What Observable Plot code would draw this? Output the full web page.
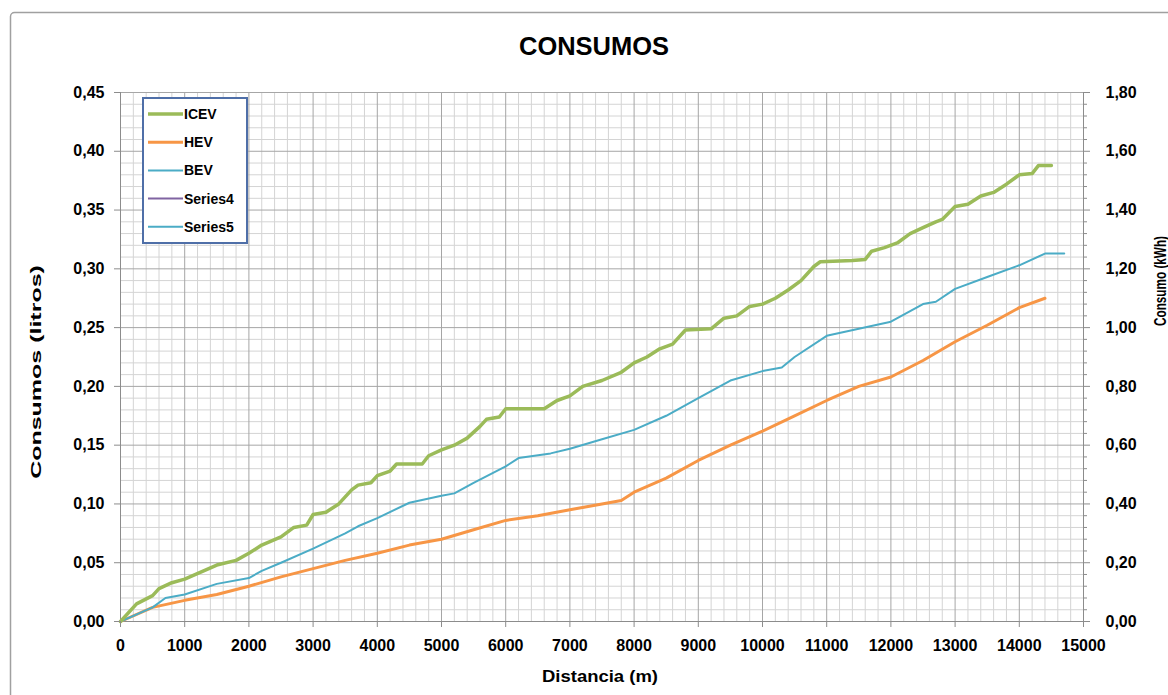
<!DOCTYPE html>
<html>
<head>
<meta charset="utf-8">
<script src="https://cdn.jsdelivr.net/npm/d3@7"></script>
<script src="https://cdn.jsdelivr.net/npm/@observablehq/plot@0.6"></script>
<style>
  html, body { margin: 0; padding: 0; background: #fff; }
  #wrap { position: relative; width: 1168px; height: 695px; overflow: hidden; }
  #wrap > svg { position: absolute; left: 0; top: 0; }
</style>
</head>
<body>
<div id="wrap"></div>
<script>
// ---- Data ----
const chartTitle = "CONSUMOS";
const xLabel = "Distancia (m)";
const yLabelLeft = "Consumos (litros)";
const yLabelRight = "Consumo (kWh)";
const legendNames = ["ICEV", "HEV", "BEV", "Series4", "Series5"];
const legendColors = ["#9bbb59", "#f79646", "#4bacc6", "#8064a2", "#4bacc6"];

const xTicks = [0,1000,2000,3000,4000,5000,6000,7000,8000,9000,10000,11000,12000,13000,14000,15000];
const yTicksLeft = [0,0.05,0.10,0.15,0.20,0.25,0.30,0.35,0.40,0.45];
const kWhPerLitreAxis = 4; // right axis 0..1.80 matches left 0..0.45

// ICEV (litros)
const icevDist = [0,250,500,600,800,1000,1500,1800,2000,2200,2500,2700,2900,3000,3200,3400,3600,3700,3900,4000,4200,4300,4700,4800,5000,5200,5400,5600,5700,5900,6000,6600,6800,7000,7200,7500,7800,8000,8200,8400,8600,8800,9200,9400,9600,9800,10000,10200,10400,10600,10800,10900,11400,11600,11700,11900,12100,12300,12500,12700,12800,13000,13200,13400,13600,13800,14000,14200,14300,14500];
const icevVal  = [0,0.015,0.022,0.028,0.033,0.036,0.048,0.052,0.058,0.065,0.072,0.080,0.082,0.091,0.093,0.100,0.112,0.116,0.118,0.124,0.128,0.134,0.134,0.141,0.146,0.150,0.156,0.166,0.172,0.174,0.181,0.181,0.188,0.192,0.200,0.205,0.212,0.220,0.225,0.232,0.236,0.248,0.249,0.258,0.260,0.268,0.270,0.275,0.282,0.290,0.302,0.306,0.307,0.308,0.315,0.318,0.322,0.330,0.335,0.340,0.342,0.353,0.355,0.362,0.365,0.372,0.380,0.381,0.388,0.388];

// HEV (litros)
const hevDist = [0,500,1000,1500,2000,2500,3000,3500,4000,4500,5000,5500,6000,6500,7000,7500,7800,8000,8500,9000,9500,10000,10500,11000,11500,12000,12500,13000,13500,14000,14400];
const hevVal  = [0,0.012,0.018,0.023,0.030,0.038,0.045,0.052,0.058,0.065,0.070,0.078,0.086,0.090,0.095,0.100,0.103,0.110,0.122,0.137,0.150,0.162,0.175,0.188,0.200,0.208,0.222,0.238,0.252,0.267,0.275];

// BEV (kWh, right axis)
const bevDist = [0,500,700,1000,1500,2000,2200,2500,3000,3500,3700,4000,4500,5000,5200,5500,6000,6200,6700,7000,7500,8000,8500,9000,9500,10000,10300,10500,11000,11500,12000,12500,12700,13000,13500,14000,14400,14700];
const bevVal  = [0,0.048,0.080,0.092,0.128,0.148,0.172,0.200,0.248,0.300,0.324,0.352,0.404,0.428,0.436,0.472,0.528,0.556,0.572,0.588,0.620,0.652,0.700,0.760,0.820,0.852,0.864,0.900,0.972,0.996,1.020,1.080,1.088,1.132,1.172,1.212,1.252,1.252];

// ---- Build tables ----
const icev = icevDist.map((d, i) => ({d, v: icevVal[i]}));
const hev = hevDist.map((d, i) => ({d, v: hevVal[i]}));
const bev = bevDist.map((d, i) => ({d, v: bevVal[i] / kWhPerLitreAxis}));

const minorX = d3.range(0, 15001, 200).filter(v => v % 1000 !== 0);
const minorY = d3.range(0, 46).map(i => i / 100).filter(v => Math.round(v * 100) % 5 !== 0);
const comma2 = v => d3.format(".2f")(v).replace(".", ",");

const W = 1168, H = 695;
const mL = 120, mR = 85, mT = 92, mB = 74;

const chart = Plot.plot({
  width: W, height: H,
  marginLeft: mL, marginRight: mR, marginTop: mT, marginBottom: mB,
  style: {fontFamily: "'Liberation Sans', Arial, sans-serif", fontSize: "16px", fontWeight: "bold", color: "#000", background: "transparent"},
  x: {domain: [0, 15000], label: null},
  y: {domain: [0, 0.45], label: null},
  marks: [
    Plot.ruleX(minorX, {stroke: "#d4d4d4", strokeWidth: 1}),
    Plot.ruleY(minorY, {stroke: "#d4d4d4", strokeWidth: 1}),
    Plot.ruleX(xTicks, {stroke: "#a6a6a6", strokeWidth: 1}),
    Plot.ruleY(yTicksLeft, {stroke: "#a6a6a6", strokeWidth: 1}),
    Plot.ruleX([0, 15000], {stroke: "#8c8c8c", strokeWidth: 1}),
    Plot.ruleY([0], {stroke: "#8c8c8c", strokeWidth: 1}),
    Plot.line(hev, {x: "d", y: "v", stroke: legendColors[1], strokeWidth: 3}),
    Plot.line(bev, {x: "d", y: "v", stroke: legendColors[2], strokeWidth: 2}),
    Plot.line(icev, {x: "d", y: "v", stroke: legendColors[0], strokeWidth: 3.5}),
    Plot.axisX({ticks: xTicks, tickSize: 6, tickPadding: 12, tickFormat: d3.format("d"), stroke: "#8c8c8c", fill: "#000", label: null}),
    Plot.axisY({ticks: yTicksLeft, anchor: "left", tickSize: 6, tickPadding: 10, tickFormat: comma2, stroke: "#8c8c8c", fill: "#000", label: null}),
    Plot.axisY({ticks: yTicksLeft, anchor: "right", tickSize: 6, tickPadding: 16, tickFormat: v => comma2(v * kWhPerLitreAxis), stroke: "#8c8c8c", fill: "#000", label: null}),
    Plot.axisY({ticks: minorY, anchor: "right", tickSize: 3, tickFormat: () => "", stroke: "#8c8c8c", label: null})
  ]
});

const wrap = document.getElementById("wrap");
wrap.appendChild(chart);

// ---- Overlay: border, title, axis titles, legend ----
const ov = d3.select(wrap).append("svg")
  .attr("width", W).attr("height", H)
  .style("pointer-events", "none")
  .style("font-family", "'Liberation Sans', Arial, sans-serif");

ov.append("rect").attr("x", 10.5).attr("y", 12.5).attr("width", W + 20).attr("height", H + 20)
  .attr("rx", 4).attr("fill", "none").attr("stroke", "#a0a0a0").attr("stroke-width", 1.5);

ov.append("text").attr("x", 594).attr("y", 55).attr("text-anchor", "middle")
  .attr("font-size", 25).attr("font-weight", "bold").attr("textLength", 150).attr("lengthAdjust", "spacingAndGlyphs")
  .text(chartTitle);

ov.append("text").attr("x", 600).attr("y", 682).attr("text-anchor", "middle")
  .attr("font-size", 16).attr("font-weight", "bold").attr("textLength", 116).attr("lengthAdjust", "spacingAndGlyphs")
  .text(xLabel);

ov.append("text").attr("transform", "translate(41,372) rotate(-90) scale(1,0.62)").attr("text-anchor", "middle")
  .attr("font-size", 25).attr("font-weight", "bold")
  .text(yLabelLeft);

ov.append("text").attr("transform", "translate(1166,281) rotate(-90)").attr("text-anchor", "middle")
  .attr("font-size", 16).attr("font-weight", "bold").attr("textLength", 90).attr("lengthAdjust", "spacingAndGlyphs")
  .text(yLabelRight);

// legend
const lg = ov.append("g");
lg.append("rect").attr("x", 143).attr("y", 98).attr("width", 104).attr("height", 145)
  .attr("fill", "#fff").attr("stroke", "#4f6fa8").attr("stroke-width", 2);
legendNames.forEach((name, i) => {
  const y = 114 + i * 28.2;
  const widths = [3.5, 3, 2, 2, 2];
  lg.append("line").attr("x1", 148).attr("x2", 183).attr("y1", y).attr("y2", y)
    .attr("stroke", legendColors[i]).attr("stroke-width", widths[i]);
  lg.append("text").attr("x", 184).attr("y", y + 5).attr("font-size", 14).attr("font-weight", "bold").text(name);
});
</script>
</body>
</html>
